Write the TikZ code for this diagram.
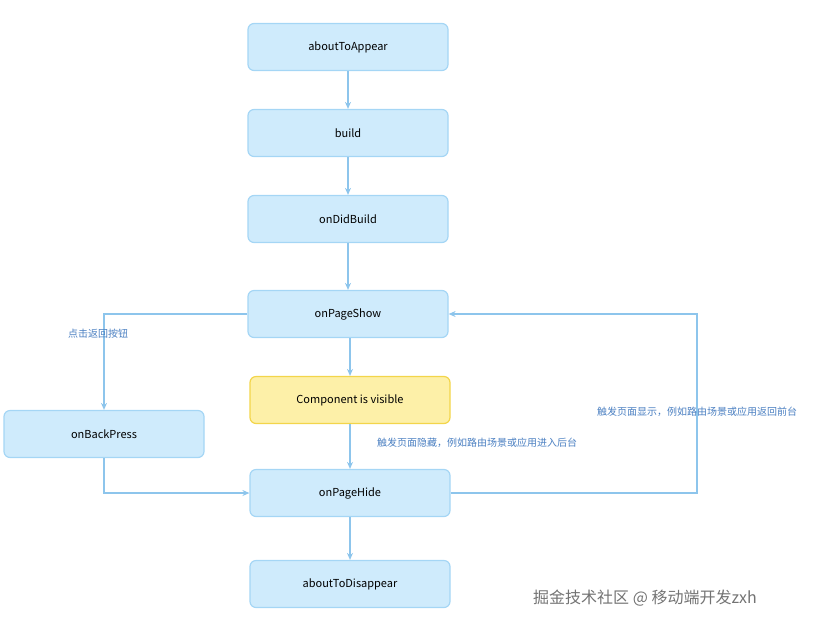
\documentclass[tikz,border=0pt]{standalone}
\usepackage{fontspec}
\setmainfont{Noto Sans CJK SC}
\usetikzlibrary{positioning,arrows.meta}
\definecolor{boxfill}{HTML}{CFEBFC}
\definecolor{boxline}{HTML}{A5D6F5}
\definecolor{yelfill}{HTML}{FDF0A8}
\definecolor{yelline}{HTML}{F3D54A}
\definecolor{flow}{HTML}{8DC5EC}
\definecolor{note}{HTML}{4A7FC1}
\tikzset{
  stage/.style={draw=boxline, fill=boxfill, line width=1.2pt, rounded corners=6pt,
    minimum width=200pt, minimum height=47pt, font=\fontsize{11}{13}\selectfont},
  visible/.style={stage, draw=yelline, fill=yelfill},
  link/.style={draw=flow, line width=1.2pt, -{Stealth[length=7pt,width=6pt]}},
  remark/.style={text=note, font=\fontsize{10}{12}\selectfont}
}
\begin{document}
\begin{tikzpicture}[x=1pt, y=-1pt]
    \useasboundingbox (0,0) rectangle (826,630);

    % Lifecycle stages
    \node [stage] (appear) at (348, 47) {aboutToAppear};
    \node [stage] (build) at (348, 133) {build};
    \node [stage] (didbuild) at (348, 219) {onDidBuild};
    \node [stage] (show) at (348, 314) {onPageShow};
    \node [visible] (vis) at (350, 400) {Component is visible};
    \node [stage] (back) at (104, 434) {onBackPress};
    \node [stage] (hide) at (350, 493) {onPageHide};
    \node [stage] (disappear) at (350, 584) {aboutToDisappear};

    % Connections
    \draw [link] (appear) -- (build);
    \draw [link] (build) -- (didbuild);
    \draw [link] (didbuild) -- (show);
    \draw [link] (show.south -| vis) -- (vis);
    \draw [link] (vis) -- (hide);
    \draw [link] (hide) -- (disappear);
    \draw [link] (show.west) -| (back.north);
    \draw [link] (back.south) |- (hide.west);
    \coordinate (turn) at (697, 493);
    \draw [link] (hide.east) -- (turn) |- (show.east);

    % Notes
    \node [remark] (n1) at (98, 334) {点击返回按钮};
    \node [remark] (n2) at (477, 443) {触发页面隐藏，例如路由场景或应用进入后台};
    \node [remark] (n3) at (697, 412) {触发页面显示，例如路由场景或应用返回前台};
    \node [text=black!55, font=\fontsize{16}{18}\selectfont] (mark) at (645, 598) {掘金技术社区 @ 移动端开发zxh};
\end{tikzpicture}
\end{document}
